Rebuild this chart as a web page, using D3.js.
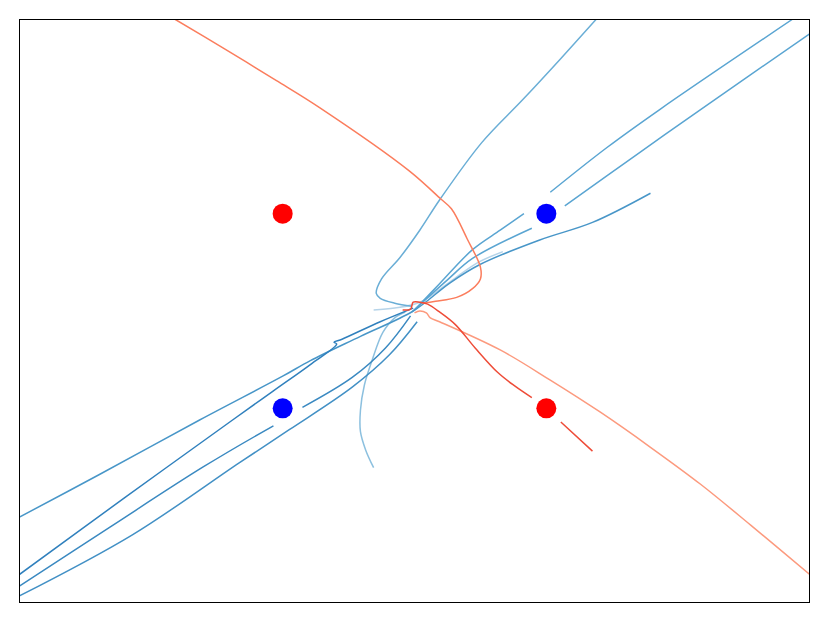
<!DOCTYPE html>
<html>
<head>
<meta charset="utf-8">
<script src="https://cdn.jsdelivr.net/npm/d3@7"></script>
<style>
  html, body { margin: 0; padding: 0; background: #fff; }
  svg { display: block; }
</style>
</head>
<body>
<svg id="chart" width="830" height="623"></svg>
<script>
// ---- data (data coordinates, axes span -3..3) ----
const xDomain = [-3, 3];
const yDomain = [-3, 3];

const charges = [
  { x: -1, y: 1, sign: "+" },
  { x: 1, y: 1, sign: "-" },
  { x: -1, y: -1, sign: "-" },
  { x: 1, y: -1, sign: "+" }
];

// null marks a break in the trajectory
const lineA = [[-3.00,-2.12],[-2.39,-1.68],[-1.63,-1.12],[-1.00,-0.67],[-0.79,-0.51],[-0.41,-0.26],[-0.01,0.00],[0.27,0.29],[0.50,0.48],[0.95,0.73],[1.35,0.91],[1.79,1.21]];
const lineB = [[-3.00,-2.71],[-2.19,-1.91],[-1.38,-1.12],[-1.07,-0.82],[-0.79,-0.55],[-0.59,-0.34],[-0.61,-0.32],[-0.55,-0.29],[-0.26,-0.11],[-0.01,0.03]];
const lineC = [[-3.00,-2.83],[-2.31,-2.22],[-1.60,-1.60],[-1.07,-1.18],null,[-0.85,-0.99],[-0.47,-0.68],[-0.22,-0.38],[-0.03,-0.05]];
const lineD = [[-3.00,-2.93],[-2.14,-2.30],[-1.33,-1.56],[-0.95,-1.22],[-0.47,-0.78],[-0.19,-0.45],[0.02,-0.11]];
const lineU2 = [[0.00,0.01],[0.19,0.28],[0.44,0.63],[0.65,0.83],[0.83,1.00],null,[1.03,1.22],[1.46,1.68],[1.86,2.07],[2.87,3.00]];
const lineU3 = [[-0.02,-0.01],[0.25,0.32],[0.44,0.54],[0.89,0.85],null,[1.14,1.08],[1.71,1.63],[2.17,2.07],[3.00,2.85]];
const lineU1 = [[1.38,3.00],[1.10,2.58],[0.82,2.17],[0.51,1.73],[0.19,1.14],[0.04,0.83],[-0.11,0.55],[-0.25,0.33],[-0.29,0.18],[-0.26,0.13],[-0.15,0.08],[-0.02,0.05]];
const lineV = [[-0.07,-0.01],[-0.15,-0.07],[-0.24,-0.22],[-0.32,-0.50],[-0.38,-0.76],[-0.41,-1.02],[-0.41,-1.24],[-0.37,-1.43],[-0.31,-1.61]];
const lineU5 = [[-0.31,0.01],[-0.15,0.03],[0.04,0.09],[0.27,0.30],[0.47,0.49],[0.67,0.61]];
const lineR1 = [[-1.82,3.00],[-1.45,2.70],[-1.05,2.37],[-0.72,2.09],[-0.04,1.44],[0.20,1.15],[0.28,1.05],[0.40,0.74],[0.50,0.45],[0.50,0.33],[0.44,0.23],[0.32,0.14],[0.16,0.10],[0.06,0.08]];
const lineR2 = [[-0.09,0.01],[-0.03,0.02],[-0.01,0.09],[0.04,0.09],[0.10,0.07],[0.19,-0.01],[0.31,-0.14],[0.46,-0.38],[0.63,-0.63],[0.76,-0.77],[0.89,-0.89],null,[1.11,-1.14],[1.35,-1.44]];
const lineR3 = [[0.00,-0.02],[0.04,0.00],[0.09,-0.02],[0.12,-0.07],[0.19,-0.11],[0.65,-0.40],[1.03,-0.71],[1.41,-1.04],[1.79,-1.40],[2.17,-1.78],[2.55,-2.20],[3.00,-2.71]];

const trajectories = [
  { pts: lineU5, color: "#b6d4e9" },
  { pts: lineV,  color: "#8cc0df" },
  { pts: lineU1, color: "#6aaed6" },
  { pts: lineU2, color: "#5aa5d2" },
  { pts: lineU3, color: "#5aa5d2" },
  { pts: lineA,  color: "#4896c8" },
  { pts: lineD,  color: "#4290c5" },
  { pts: lineC,  color: "#3a89c1" },
  { pts: lineB,  color: "#3080bd" },
  { pts: lineR3, color: "#fc9a7e" },
  { pts: lineR1, color: "#fb7d5d" },
  { pts: lineR2, color: "#ee4c38" }
];

// ---- drawing ----
const svg = d3.select("#chart");
const x = d3.scaleLinear().domain(xDomain).range([19, 810]);
const y = d3.scaleLinear().domain(yDomain).range([603, 19]);

svg.append("defs").append("clipPath").attr("id", "clip")
  .append("rect")
  .attr("x", x(xDomain[0])).attr("y", y(yDomain[1]))
  .attr("width", x(xDomain[1]) - x(xDomain[0]))
  .attr("height", y(yDomain[0]) - y(yDomain[1]));

const line = d3.line()
  .defined(d => d !== null)
  .x(d => x(d[0]))
  .y(d => y(d[1]))
  .curve(d3.curveCatmullRom.alpha(0.5));

const g = svg.append("g").attr("clip-path", "url(#clip)");

g.selectAll("path.traj")
  .data(trajectories)
  .join("path")
  .attr("class", "traj")
  .attr("d", d => line(d.pts))
  .attr("fill", "none")
  .attr("stroke", d => d.color)
  .attr("stroke-width", 1.5)
  .attr("stroke-linejoin", "round")
  .attr("stroke-linecap", "butt");

g.selectAll("circle.charge")
  .data(charges)
  .join("circle")
  .attr("class", "charge")
  .attr("cx", d => x(d.x))
  .attr("cy", d => y(d.y))
  .attr("r", 10)
  .attr("fill", d => d.sign === "+" ? "#ff0000" : "#0000ff");

// frame
svg.append("rect")
  .attr("x", x(xDomain[0]) + 0.5).attr("y", y(yDomain[1]) + 0.5)
  .attr("width", x(xDomain[1]) - x(xDomain[0]) - 1)
  .attr("height", y(yDomain[0]) - y(yDomain[1]) - 1)
  .attr("fill", "none")
  .attr("stroke", "#000")
  .attr("stroke-width", 1);
</script>
</body>
</html>
